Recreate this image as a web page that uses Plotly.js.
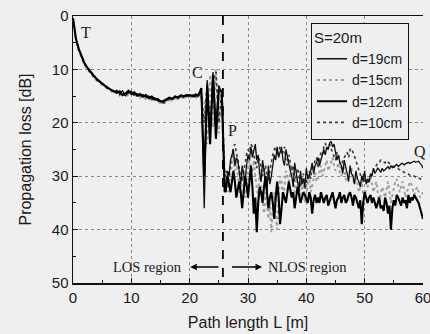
<!DOCTYPE html>
<html>
<head>
<meta charset="utf-8">
<script src="https://cdn.plot.ly/plotly-3.0.1.min.js"></script>
<style>html,body{margin:0;padding:0;background:#efefef;}#chart{width:430px;height:334px;}</style>
</head>
<body>
<div id="chart"></div>
<script>
// Path length L [m]: LOS part, corner part, NLOS part
const xLos = [0,0.25,0.5,1,1.5,2,2.5,3,3.5,4,4.5,5,5.5,6,6.5,7,7.5,8,8.5,9,9.5,10,10.5,11,11.5,12,12.5,13,13.5,14,14.5,15,15.5,16,16.5,17,17.5,18,18.5,19,19.5,20,20.5,21,21.5];
const xCorner = [22,22.5,23,23.5,24,24.5,25,25.5,26];
const xNlos = [
  26.25,26.5,26.75,27, 27.25,27.5,27.75,28, 28.25,28.5,28.75,29, 29.25,29.5,29.75,30,
  30.25,30.5,30.75,31, 31.25,31.5,31.75,32, 32.25,32.5,32.75,33, 33.25,33.5,33.75,34,
  34.25,34.5,34.75,35, 35.25,35.5,35.75,36, 36.25,36.5,36.75,37, 37.25,37.5,37.75,38,
  38.25,38.5,38.75,39, 39.25,39.5,39.75,40, 40.25,40.5,40.75,41, 41.25,41.5,41.75,42,
  42.25,42.5,42.75,43, 43.25,43.5,43.75,44, 44.25,44.5,44.75,45, 45.25,45.5,45.75,46,
  46.25,46.5,46.75,47, 47.25,47.5,47.75,48, 48.25,48.5,48.75,49, 49.25,49.5,49.75,50,
  50.25,50.5,50.75,51, 51.25,51.5,51.75,52, 52.25,52.5,52.75,53, 53.25,53.5,53.75,54,
  54.25,54.5,54.75,55, 55.25,55.5,55.75,56, 56.25,56.5,56.75,57, 57.25,57.5,57.75,58,
  58.25,58.5,58.75,59, 59.25,59.5,59.75,60];

// Propagation loss [dB], S = 20 m
const los19 = [0.5,2.8,4.3,6.3,7.8,9.0,9.8,10.6,11.2,11.8,12.3,12.6,13.0,13.3,13.7,14.2,13.9,14.6,14.0,14.9,14.3,14.1,14.8,14.5,15.0,14.7,15.2,15.0,15.5,15.3,15.8,15.9,16.2,15.7,15.4,15.6,15.0,15.3,14.8,15.1,14.7,15.0,14.8,15.1,14.6];
const corner19 = [14.5,36,12,22,10.5,20,13,14.5,31];
const nlos19 = [
  33,29,30,27, 26,25,28,26.5, 27,30,31.5,28, 29.5,31,28,26,
  27,24.5,26.5,25.5, 24,27,26,29.5, 31,27,29,31, 33,28,31.5,30,
  28,26,27,24.5, 26.5,25.5,24.5,27, 28,25,26.5,28, 29,30,32,27.5,
  29,31,33,29, 31.5,30.5,32,28.5, 30.5,30,29,27.5, 29.5,28,27.5,26.5,
  28,27,25.5,25, 26,24.5,25,23.8, 23.5,24.5,24,25.5, 27,26,27.5,28,
  29.5,27,28,29.5, 31,28,29.5,30, 31.5,29,30.5,31, 32,30,31,29,
  31.5,30.5,31,29.5, 30,28.5,29.5,29, 28.5,28.8,29.3,28.5, 29,28.8,28.5,28.2,
  28.7,28,28.4,28.3, 28,27.8,28.2,27.9, 27.7,27.6,27.9,27.7, 27.5,27.4,27.6,27.5,
  27.3,27.2,27.4,27.3, 27.2,27.6,27.9,28.5];

const los15 = [0.6,3.0,4.5,6.5,8.0,9.2,10.0,10.8,11.4,12.0,12.5,12.9,13.3,13.6,14.0,14.5,14.2,14.9,14.3,15.2,14.6,14.4,15.1,14.8,15.4,15.0,15.6,15.3,15.9,15.7,16.1,16.3,16.5,16.0,15.8,15.9,15.4,15.6,15.2,15.4,15.1,15.3,15.1,15.4,15.0];
const corner15 = [15,16,24,11,21,10,22,13.5,30];
const nlos15 = [
  31,33,31,29, 27.5,26,29,27, 30,32,34,29, 31,34,31,28,
  27,30,29,27, 30,32,34,29, 32,35,37,33, 36,38,35,40.5,
  36,33,37,40, 34,30,31,34, 32,29,30,31, 29.5,28,31,33,
  31.5,30,32,34, 32.5,31,35,33, 31.5,30,33,32, 30.5,29,31,30.5,
  29,28,30,29, 28,27,29,28, 27,26.5,28,29, 28.5,27.5,29.5,30,
  28,28.5,30.5,31, 30,29,28.5,30.5, 31.5,29.5,31,33, 32,31,33.5,34,
  32.5,32,31,30, 31.5,33,32,31, 33,35,33.5,32, 33,34,32.5,31,
  33,35,33.5,32, 31,30.5,32,33, 32,31,32.5,34, 33,32,31,31.5,
  32.5,33.5,32.5,32, 33,34,33.5,33];

const los12 = [0.4,2.6,4.2,6.2,7.7,8.9,9.7,10.5,11.1,11.7,12.2,12.7,13.1,13.5,13.8,14.0,14.4,14.1,14.8,14.5,14.0,14.6,14.3,14.9,14.6,15.1,14.8,15.4,15.1,15.6,15.5,16.0,15.9,15.6,15.3,15.5,15.1,15.2,14.9,15.0,14.9,14.8,15.0,14.7,14.9];
const corner12 = [13.5,30,13,24,11,23,14,14,33];
const nlos12 = [
  32,30,31.5,33, 31,29,31,34, 32.5,31,33,36, 33,30,31.5,34,
  31,28,32,37, 34,40.5,35,32, 33,35,32,30, 33,36,34,33,
  35,38,34,31, 34,39,36,33, 34,35,33,31, 32.5,34,33,36,
  34,32,33.5,35, 34,33,33.5,34.5, 35,33,34,37, 34.5,33.5,35,34,
  35,33,34,35, 34,33.5,35.5,34.5, 34,33,34.5,36, 34.5,34,33,35,
  34,33.5,35,34.5, 33.5,33,34,35.5, 33.5,34,35,36, 34.5,39,35,33,
  34,35,34,33.5, 35,34,35,36, 35,34,36,35.5, 36.5,34,35,37,
  35.5,40,36,34.5, 35.5,33.5,34,35, 35.5,34,35,34.5, 36,33.5,35,34,
  34.5,33.5,34,34.5, 35,36,37,38];

const los10 = [0.5,2.9,4.4,6.4,7.9,9.1,9.9,10.7,11.3,11.9,12.4,12.8,13.2,13.5,13.9,14.3,14.0,14.7,14.2,15.0,14.4,14.3,14.9,14.7,15.2,14.9,15.4,15.2,15.7,15.5,15.9,16.1,16.3,15.9,15.6,15.8,15.2,15.5,15.0,15.3,14.9,15.2,15.0,15.3,14.8];
const corner10 = [14.8,20,12.5,21,12,10.5,20,14,30];
const nlos10 = [
  29,31,29.5,28, 26,24.5,24,25.5, 27,29,30,31, 29,27,26,25,
  25.5,24,24.5,26, 27,28.5,26.5,27, 28.5,30,29,28, 30,31,29,27,
  26,25,24.5,26, 25,24.5,26,25.5, 24.5,27,28,26, 27.5,29,28,31,
  30,28.5,30,32, 30.5,29.5,32.5,31, 30,29,30.5,28, 28.5,27,26.5,28.5,
  27,25.5,26,24.5, 23.8,25,24.5,24, 24.8,25.5,26,27, 25.5,26,27.5,28.5,
  27,26.5,26,25.5, 26.5,25,24.8,25.5, 26,27,28,29, 30,30.5,29.5,31,
  30.5,31.5,31,30.5, 29.5,29,28.5,28, 27.5,27.5,27,27.2, 27.4,27.5,27.1,27.4,
  27.7,27.8,28.1,28.2, 28.4,28.5,28.6,28.8, 29,29,29.3,29.3, 29.4,29.6,29.8,29.8,
  29.8,30,30.2,30.2, 30.3,30.5,30.6,30.8];

const seriesNames = ['d=19cm','d=15cm','d=12cm','d=10cm'];
const losBoundary = 25.7;
const xTicks = [0,10,20,30,40,50,60];
const yTicks = [0,10,20,30,40,50];

const sans = 'Liberation Sans, Arial, sans-serif';
const serif = 'Liberation Serif, Times New Roman, serif';
const pathLength = [...xLos, ...xCorner, ...xNlos];

const traces = [
  {name: seriesNames[1], y: [...los15, ...corner15, ...nlos15], line: {color: '#a0a0a0', width: 2.0, dash: 'dot'}, legendrank: 2},
  {name: seriesNames[3], y: [...los10, ...corner10, ...nlos10], line: {color: '#3c3c3c', width: 1.6, dash: 'dot'}, legendrank: 4},
  {name: seriesNames[0], y: [...los19, ...corner19, ...nlos19], line: {color: '#111', width: 1.3}, legendrank: 1},
  {name: seriesNames[2], y: [...los12, ...corner12, ...nlos12], line: {color: '#000', width: 2.1}, legendrank: 3}
].map(t => Object.assign({type: 'scatter', mode: 'lines', x: pathLength}, t));

const layout = {
  width: 430, height: 334,
  margin: {l: 73, r: 7, t: 16, b: 51},
  paper_bgcolor: '#efefef', plot_bgcolor: '#efefef',
  font: {family: sans, size: 14, color: '#1a1a1a'},
  showlegend: true,
  legend: {
    x: 0.68, y: 0.975, xanchor: 'left', yanchor: 'top',
    bgcolor: '#efefef', bordercolor: '#111', borderwidth: 1,
    title: {text: 'S=20m', font: {family: sans, size: 15}},
    font: {family: sans, size: 14},
    tracegroupgap: 0
  },
  xaxis: {
    range: [0, 60], tickvals: xTicks, ticktext: xTicks.map(String),
    ticklabeloverflow: 'allow',
    tickfont: {size: 15},
    ticks: 'inside', ticklen: 5, tickcolor: '#111',
    minor: {dtick: 5, ticks: 'inside', ticklen: 3, tickcolor: '#111', showgrid: false},
    showline: true, linecolor: '#111', linewidth: 1.5, mirror: true,
    showgrid: true, gridcolor: '#8a8a8a', griddash: 'dot', gridwidth: 1,
    zeroline: false,
    title: {text: 'Path length L [m]', font: {family: sans, size: 16}, standoff: 12},
    automargin: false
  },
  yaxis: {
    range: [50, 0], tickvals: yTicks, ticktext: yTicks.map(String),
    tickfont: {size: 15},
    ticks: 'inside', ticklen: 5, tickcolor: '#111',
    minor: {dtick: 5, ticks: 'inside', ticklen: 3, tickcolor: '#111', showgrid: false},
    showline: true, linecolor: '#111', linewidth: 1.5,
    showgrid: true, gridcolor: '#8a8a8a', griddash: 'dot', gridwidth: 1,
    zeroline: false,
    title: {text: 'Propagation loss [dB]', font: {family: sans, size: 16}, standoff: 16},
    automargin: false
  },
  shapes: [
    {type: 'line', xref: 'x', yref: 'y', x0: losBoundary, x1: losBoundary, y0: 0, y1: 50, line: {color: '#000', width: 1.8, dash: 'dash'}}
  ],
  annotations: [
    {x: 2.2, y: 3, text: 'T', showarrow: false, font: {family: serif, size: 16}},
    {x: 21.4, y: 10.6, text: 'C', showarrow: false, font: {family: serif, size: 16}},
    {x: 27.4, y: 21.5, text: 'P', showarrow: false, font: {family: serif, size: 16}},
    {x: 59.4, y: 25.3, text: 'Q', showarrow: false, font: {family: serif, size: 16}},
    {x: 12.7, y: 47, text: 'LOS region', showarrow: false, font: {family: serif, size: 14.5}},
    {x: 40.2, y: 47, text: 'NLOS region', showarrow: false, font: {family: serif, size: 14.5}},
    {x: 20.1, y: 47, ax: 25.2, ay: 47, axref: 'x', ayref: 'y', text: '', showarrow: true, arrowhead: 2, arrowsize: 1, arrowwidth: 1.3, arrowcolor: '#000'},
    {x: 32.4, y: 47, ax: 27.0, ay: 47, axref: 'x', ayref: 'y', text: '', showarrow: true, arrowhead: 2, arrowsize: 1, arrowwidth: 1.3, arrowcolor: '#000'}
  ].map(a => Object.assign({xref: 'x', yref: 'y'}, a))
};

Plotly.newPlot('chart', traces, layout, {displayModeBar: false, staticPlot: true});
</script>
</body>
</html>
